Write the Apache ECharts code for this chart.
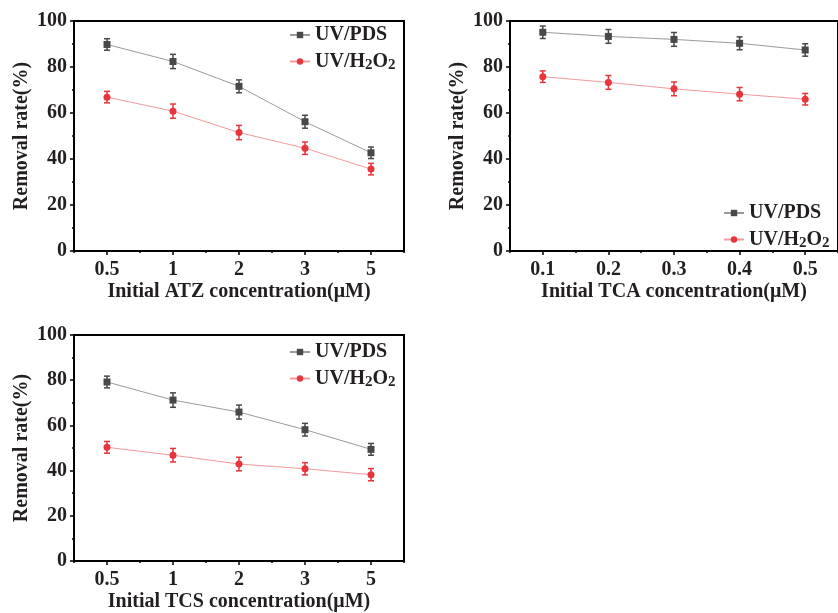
<!DOCTYPE html>
<html>
<head>
<meta charset="utf-8">
<script src="https://cdn.jsdelivr.net/npm/echarts@6/dist/echarts.min.js"></script>
<style>
  html, body { margin: 0; padding: 0; background: #fff; }
  #chart { width: 838px; height: 613px; }
</style>
</head>
<body>
<div id="chart"></div>
<script>
// Concentration categories (tick labels) for each panel
const atzCats = ['0.5', '1', '2', '3', '5'];
const tcaCats = ['0.1', '0.2', '0.3', '0.4', '0.5'];
const tcsCats = ['0.5', '1', '2', '3', '5'];

// Removal rate (%) and standard deviation, ATZ
const atzPds = [89.8, 82.4, 71.6, 56.2, 42.7];
const atzPdsErr = [2.5, 3.1, 2.8, 2.8, 2.5];
const atzH2o2 = [66.9, 60.8, 51.5, 44.7, 35.6];
const atzH2o2Err = [2.5, 3.1, 3.1, 2.7, 2.5];

// Removal rate (%) and standard deviation, TCA
const tcaPds = [95.1, 93.3, 92.0, 90.3, 87.4];
const tcaPdsErr = [2.7, 3.0, 3.0, 2.8, 2.7];
const tcaH2o2 = [75.8, 73.3, 70.5, 68.2, 66.0];
const tcaH2o2Err = [2.5, 3.0, 3.0, 2.9, 2.5];

// Removal rate (%) and standard deviation, TCS
const tcsPds = [79.2, 71.2, 65.9, 58.1, 49.4];
const tcsPdsErr = [2.6, 3.2, 3.1, 2.8, 2.6];
const tcsH2o2 = [50.3, 46.8, 42.9, 40.8, 38.2];
const tcsH2o2Err = [2.6, 3.0, 3.0, 2.7, 2.7];

const FONT = '"Liberation Serif", "Times New Roman", serif';
const INK = '#231f20';
const PDS_MARK = '#484848';
const PDS_LINE = '#9a9a9a';
const H2O2_MARK = '#e8343c';
const H2O2_LINE = '#f29a9d';

const panels = [
  { cats: atzCats, title: 'Initial ATZ concentration(\u03bcM)', left: 74, top: 21, width: 330, height: 230,
    pds: atzPds, pdsErr: atzPdsErr, h2o2: atzH2o2, h2o2Err: atzH2o2Err, legend: { left: 289, top: 25 } },
  { cats: tcaCats, title: 'Initial TCA concentration(\u03bcM)', left: 510, top: 21, width: 330, height: 230,
    pds: tcaPds, pdsErr: tcaPdsErr, h2o2: tcaH2o2, h2o2Err: tcaH2o2Err, legend: { left: 723, top: 203 } },
  { cats: tcsCats, title: 'Initial TCS concentration(\u03bcM)', left: 74, top: 335, width: 330, height: 231,
    pds: tcsPds, pdsErr: tcsPdsErr, h2o2: tcsH2o2, h2o2Err: tcsH2o2Err, legend: { left: 289, top: 342 } }
];

const textBase = { fontFamily: FONT, fontWeight: 'bold', fontSize: 20, color: INK };

// Vertical error bars with caps, placed through the panel's axes
function errorSeries(name, xi, yi, vals, errs, color) {
  return {
    type: 'custom',
    name: name,
    xAxisIndex: xi,
    yAxisIndex: yi,
    z: 3,
    silent: true,
    data: vals.map((v, i) => [i, v - errs[i], v + errs[i]]),
    encode: { x: 0, y: [1, 2] },
    renderItem: function (params, api) {
      const x = api.value(0);
      const lo = api.coord([x, api.value(1)]);
      const hi = api.coord([x, api.value(2)]);
      const hw = 3;
      const st = { stroke: color, lineWidth: 1.5 };
      return {
        type: 'group',
        children: [
          { type: 'line', shape: { x1: lo[0], y1: lo[1], x2: hi[0], y2: hi[1] }, style: st },
          { type: 'line', shape: { x1: lo[0] - hw, y1: lo[1], x2: lo[0] + hw, y2: lo[1] }, style: st },
          { type: 'line', shape: { x1: hi[0] - hw, y1: hi[1], x2: hi[0] + hw, y2: hi[1] }, style: st }
        ]
      };
    }
  };
}

const grid = [], xAxis = [], yAxis = [], series = [], legend = [];

panels.forEach((p, g) => {
  grid.push({
    left: p.left, top: p.top, width: p.width, height: p.height,
    show: true, borderColor: '#000', borderWidth: 2, backgroundColor: 'transparent'
  });
  // main category axis: ticks under the labels
  xAxis.push({
    type: 'category', gridIndex: g, data: p.cats, boundaryGap: true,
    name: p.title, nameLocation: 'middle', nameGap: 31,
    nameTextStyle: Object.assign({}, textBase),
    axisLine: { show: true, lineStyle: { color: '#000', width: 2 } },
    axisTick: { show: true, alignWithLabel: true, inside: false, length: 4, lineStyle: { color: '#000', width: 1.5 } },
    axisLabel: Object.assign({ margin: 9 }, textBase),
    splitLine: { show: false }
  });
  // companion axis: short ticks between categories
  xAxis.push({
    type: 'category', gridIndex: g, data: p.cats, boundaryGap: true, position: 'bottom',
    axisLine: { show: false },
    axisTick: { show: true, alignWithLabel: false, inside: false, length: 2, lineStyle: { color: '#000', width: 1.5 } },
    axisLabel: { show: false },
    splitLine: { show: false }
  });
  yAxis.push({
    type: 'value', gridIndex: g, min: 0, max: 100, interval: 20,
    name: 'Removal rate(%)', nameLocation: 'middle', nameGap: 42,
    nameTextStyle: Object.assign({}, textBase),
    axisLine: { show: true, lineStyle: { color: '#000', width: 2 } },
    axisTick: { show: true, inside: false, length: 4, lineStyle: { color: '#000', width: 1.5 } },
    minorTick: { show: true, splitNumber: 2, length: 2, lineStyle: { color: '#000', width: 1.5 } },
    axisLabel: Object.assign({ margin: 7 }, textBase),
    splitLine: { show: false }
  });

  const xi = 2 * g;
  series.push({
    type: 'line', name: 'UV/PDS', xAxisIndex: xi, yAxisIndex: g, data: p.pds,
    symbol: 'rect', symbolSize: 7, z: 4,
    lineStyle: { color: PDS_LINE, width: 1 },
    itemStyle: { color: PDS_MARK }
  });
  series.push({
    type: 'line', name: 'UV/H2O2', xAxisIndex: xi, yAxisIndex: g, data: p.h2o2,
    symbol: 'circle', symbolSize: 7, z: 4,
    lineStyle: { color: H2O2_LINE, width: 1 },
    itemStyle: { color: H2O2_MARK }
  });
  series.push(errorSeries('pds-err-' + g, xi, g, p.pds, p.pdsErr, PDS_MARK));
  series.push(errorSeries('h2o2-err-' + g, xi, g, p.h2o2, p.h2o2Err, H2O2_MARK));

  legend.push({
    data: ['UV/PDS', 'UV/H2O2'],
    orient: 'vertical',
    left: p.legend.left, top: p.legend.top,
    itemGap: 5, itemWidth: 20, itemHeight: 8,
    selectedMode: false,
    padding: 0,
    formatter: function (name) {
      if (name === 'UV/H2O2') return '{m|UV/H}{s|2}{m|O}{s|2}';
      return '{m|' + name + '}';
    },
    textStyle: {
      fontFamily: FONT, fontWeight: 'bold', fontSize: 20, color: INK, lineHeight: 20,
      rich: {
        m: { fontFamily: FONT, fontWeight: 'bold', fontSize: 20, color: INK, lineHeight: 20 },
        s: { fontFamily: FONT, fontWeight: 'bold', fontSize: 15, color: INK, lineHeight: 20, padding: [8, 0, 0, 0] }
      }
    }
  });
});

const chart = echarts.init(document.getElementById('chart'), null, { renderer: 'canvas' });
chart.setOption({
  animation: false,
  backgroundColor: '#fff',
  grid: grid,
  xAxis: xAxis,
  yAxis: yAxis,
  legend: legend,
  series: series
});
</script>
</body>
</html>
